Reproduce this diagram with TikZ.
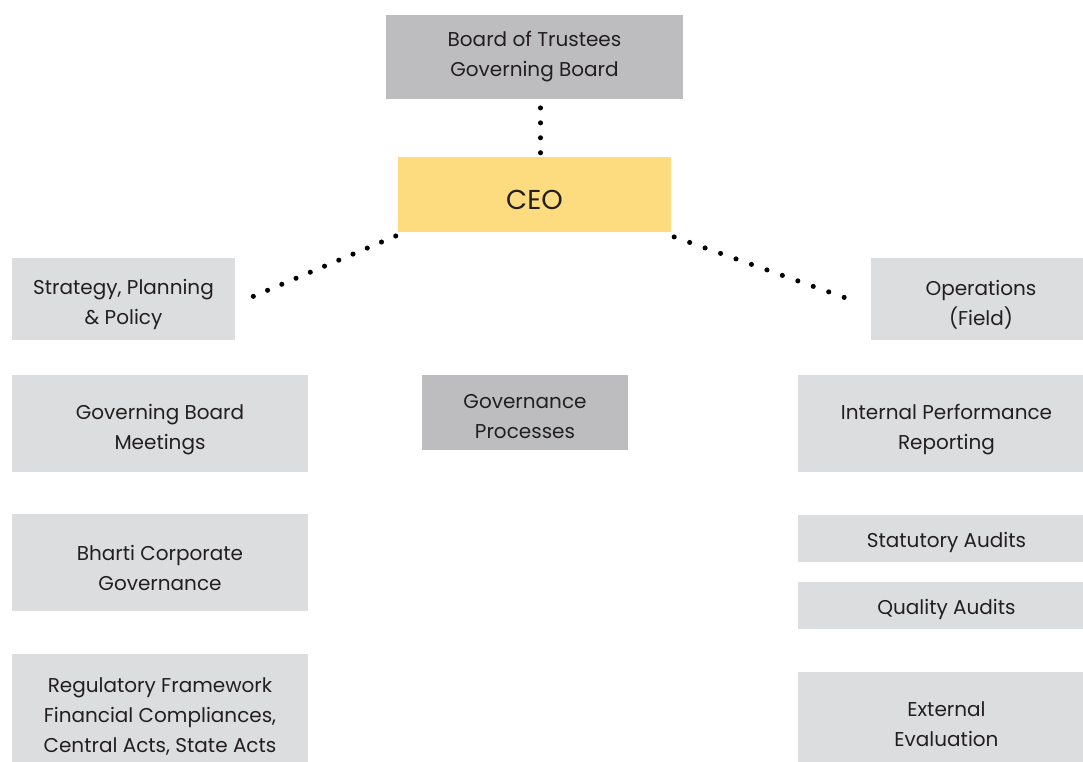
\documentclass[tikz,border=0pt]{standalone}
\usepackage{fontspec}
\setmainfont{Poppins}
\definecolor{boardgray}{RGB}{189,189,191}
\definecolor{unitgray}{RGB}{220,221,222}
\definecolor{ceoyellow}{RGB}{253,220,127}
\definecolor{inkblack}{RGB}{35,31,32}
% invisible strut that pushes the first line down a little
\newcommand\lift[1][20pt]{\rule{0pt}{#1}}
\begin{document}
\begin{tikzpicture}[x=0.75pt, y=-0.75pt,
  every node/.style={inner sep=0pt, align=center, text=inkblack,
    font=\fontsize{15}{22.5}\selectfont},
  sz/.style 2 args={minimum width=#1*0.75pt, minimum height=#2*0.75pt},
  dark/.style={fill=boardgray},
  light/.style={fill=unitgray},
  dotline/.style={line width=3.8pt, line cap=round, dash pattern=on 0pt off #1}]
\useasboundingbox (0,0) rectangle (1083,762);
\clip (0,0) rectangle (1083,762);

% top of the chart
\node[dark, sz={297}{84}] (board) at (534.5,57) {Board of Trustees\\Governing Board};
\node[fill=ceoyellow, sz={273}{75}, font=\fontsize{20.5}{24}\selectfont] (ceo) at (534.5,194.5) {\lift[22pt]CEO};

% left column
\node[light, sz={223}{82}] (strat) at (123.5,299) {\lift Strategy, Planning\\\& Policy};
\node[light, sz={296}{97}] (gbm) at (160,423.5) {\lift Governing Board\\Meetings};
\node[light, sz={296}{97}] (bharti) at (160,562.5) {\lift Bharti Corporate\\Governance};
\node[light, sz={296}{120}] (reg) at (160,714) {\lift[15.5pt]Regulatory Framework\\Financial Compliances,\\Central Acts, State Acts};

% middle
\node[dark, sz={206}{75}] (gproc) at (525,412.5) {\lift[17pt]Governance\\Processes};

% right column
\node[light, sz={220}{82}] (ops) at (981,299) {\lift Operations\\(Field)};
\node[light, sz={297}{97}] (ipr) at (946.5,423.5) {\lift Internal Performance\\Reporting};
\node[light, sz={297}{47}] (stat) at (946.5,538.5) {\lift[17pt]Statutory Audits};
\node[light, sz={297}{47}] (qual) at (946.5,605.5) {\lift[17pt]Quality Audits};
\node[light, sz={297}{104}] (ext) at (946.5,724) {External\\Evaluation};

% dotted links
\coordinate (stratEnd) at (253,296.5);
\coordinate (opsEnd) at (844.5,297.5);
\draw[dotline=11.2pt] ([xshift=4.5pt, yshift=-6.5pt]board.south) -- ([xshift=4.5pt]ceo.north);
\draw[dotline=11.6pt] ([xshift=-1.5pt, yshift=-2.8pt]ceo.south west) -- (stratEnd);
\draw[dotline=12.3pt] ([xshift=2.2pt, yshift=-3.5pt]ceo.south east) -- (opsEnd);
\end{tikzpicture}
\end{document}
